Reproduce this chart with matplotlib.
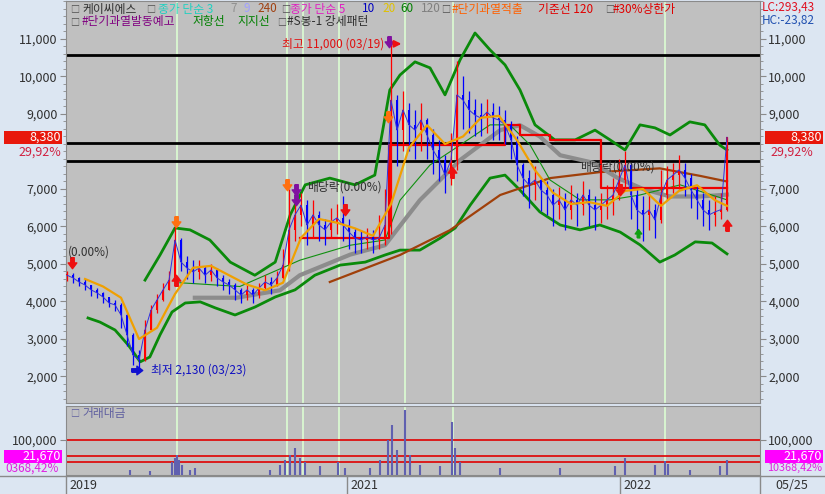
import numpy as np
import matplotlib.pyplot as plt
from matplotlib.path import Path
from matplotlib.patches import Rectangle
from matplotlib.lines import Line2D
from matplotlib.ticker import FuncFormatter, FixedLocator, MultipleLocator, NullLocator

plt.rcParams['font.family'] = ['Noto Sans CJK KR', 'DejaVu Sans']

W, H = 825, 494
def fx(px): return px / W
def fy(py): return 1 - py / H

# daily-ish bars (index 0 = start of 2019)
close = [4700, 4630, 4520, 4440, 4310, 4230, 4120, 3960, 3910, 3640,
         3110, 2570, 2440, 3240, 3770, 4040, 4310, 4570, 5640, 5050,
         4890, 4790, 4890, 4700, 4840, 4630, 4520, 4440, 4310, 4170,
         4310, 4170, 4360, 4520, 4440, 4630, 4970, 5910, 6310, 6570,
         6040, 6310, 6040, 5910, 6120, 6230, 6040, 5850, 5690, 5640,
         5720, 5640, 5690, 6040, 9370, 8570, 9110, 8710, 8570, 8840,
         8440, 8040, 7770, 7370, 7770, 9510, 9370, 9110, 8970, 8890,
         9050, 8890, 8840, 8710, 8310, 7640, 7290, 7110, 7240, 6970,
         6840, 6570, 6710, 6440, 6710, 6570, 6840, 6570, 6440, 6570,
         6710, 6840, 7240, 7640, 6840, 6440, 6310, 6440, 6170, 6840,
         7240, 7370, 7510, 7290, 6970, 6710, 6440, 6310, 6390, 6450,
         8380]
high = [4800, 4750, 4650, 4600, 4450, 4350, 4250, 4100, 4050, 3950,
        3700, 3150, 2700, 3500, 3900, 4200, 4500, 4800, 6000, 5700,
        5200, 5100, 5100, 4950, 5000, 4900, 4700, 4600, 4500, 4350,
        4450, 4350, 4500, 4700, 4650, 4800, 5400, 7000, 6800, 6900,
        6700, 6700, 6400, 6200, 6500, 6600, 6800, 6200, 5950, 5900,
        5950, 5900, 6300, 7000, 11000, 9500, 9600, 9300, 9100, 9300,
        8900, 8600, 8300, 7900, 8500, 10400, 10000, 9600, 9400, 9300,
        9400, 9300, 9200, 9100, 8800, 8400, 7700, 7500, 7600, 7300,
        7200, 7000, 7050, 6900, 7100, 6900, 7200, 7000, 6800, 6900,
        7100, 7300, 7800, 8000, 7700, 7000, 6800, 6900, 6600, 7500,
        7600, 7700, 7900, 7700, 7400, 7100, 6900, 6700, 6800, 6900,
        8380]
low = [4550, 4500, 4400, 4300, 4150, 4100, 3950, 3850, 3750, 3300,
       2800, 2300, 2130, 2400, 3200, 3700, 4000, 4300, 4500, 4800,
       4600, 4500, 4600, 4500, 4550, 4400, 4300, 4200, 4050, 3950,
       4050, 3950, 4100, 4300, 4200, 4400, 4600, 4800, 5600, 6000,
       5500, 5700, 5600, 5500, 5700, 5800, 5600, 5400, 5300, 5300,
       5400, 5300, 5400, 5500, 5800, 7600, 8000, 8000, 7800, 8000,
       7800, 7400, 7200, 6900, 7100, 7500, 8600, 8500, 8400, 8400,
       8500, 8300, 8300, 8200, 7800, 7200, 6800, 6500, 6700, 6400,
       6300, 6000, 6200, 5900, 6200, 6000, 6300, 6000, 5900, 6100,
       6200, 6300, 6700, 7000, 6200, 5800, 5600, 5900, 5700, 6100,
       6700, 6900, 7000, 6800, 6500, 6200, 6000, 5900, 6000, 6200,
       6400]

# moving averages
ma20_x = list(range(3, 109, 3)) + [110]
ma20_v = [4600, 4400, 4100, 3000, 3300, 4200, 4900, 4950, 4700, 4450,
          4300, 4500, 5700, 6200, 6100, 5950, 5750, 6600, 8100, 8700,
          8200, 8400, 8900, 8950, 8300, 7500, 6900, 6600, 6650, 6550,
          6950, 7000, 6550, 6950, 7100, 6700, 6550]
ma60_x = [18.8, 28.8, 38.8, 47.2, 53.0, 55.5, 60.5, 65.5, 70.5, 73.8, 77.2, 80.5, 85.5, 90.5, 95.5, 102.2, 110]
ma60_v = [4500, 4400, 5100, 5500, 5640, 6700, 7640, 8170, 8710, 8710, 8170, 7240, 6710, 6710, 6840, 7110, 6710]
ma120_x = [21.3, 28.3, 35.5, 38.8, 47.2, 53.0, 58.8, 65.5, 72.2, 75.5, 78.8, 82.2, 87.7, 91.7, 96.0, 100.5, 105.5, 110]
ma120_v = [4100, 4100, 4300, 4700, 5250, 5500, 6700, 7770, 8570, 8700, 8400, 7900, 7700, 7300, 7000, 6800, 6800, 6850]
ma240_x = [43.8, 55.5, 63.8, 72.2, 80.5, 88.8, 98.8, 105.5, 110]
ma240_v = [4520, 5240, 5900, 6840, 7290, 7450, 7550, 7350, 7200]

# envelope bands
up_x = [13.0, 15.5, 18.0, 20.5, 23.8, 27.2, 31.3, 34.7, 37.2, 39.7, 43.8, 48.0, 51.3, 53.8, 55.5, 58.0,
        60.5, 63.0, 65.5, 68.0, 70.5, 73.0, 75.5, 78.0, 81.3, 84.7, 88.0, 90.5, 93.0, 95.5, 98.0, 100.5,
        103.8, 106.3, 108.8, 110]
up_v = [4570, 5240, 5960, 5910, 5640, 5050, 4700, 5050, 6310, 7110, 7290, 7110, 7370, 9640, 10040, 10390,
        10230, 9510, 10440, 11160, 10710, 10310, 9640, 8710, 8310, 8310, 8570, 8310, 8040, 8710, 8630, 8440,
        8790, 8710, 8170, 8040]
lo_x = [3.5, 5.5, 8.0, 10.2, 12.2, 13.8, 15.5, 17.5, 19.7, 22.2, 24.7, 28.0, 31.3, 34.7, 38.0, 41.3, 45.5,
        49.7, 53.0, 55.5, 58.8, 62.2, 64.7, 67.2, 70.5, 73.0, 75.5, 78.8, 82.2, 85.5, 88.8, 92.2, 95.5, 98.8,
        101.3, 104.7, 107.5, 110]
lo_v = [3560, 3450, 3240, 2840, 2390, 2520, 3110, 3720, 3960, 3990, 3830, 3640, 3850, 4120, 4310, 4700, 4970,
        5050, 5240, 5370, 5370, 5690, 5960, 6570, 7290, 7370, 6970, 6390, 6040, 5910, 6040, 5850, 5510, 5050,
        5240, 5590, 5560, 5270]

# baseline step line
base_x = [38.8, 53.7, 73.0, 75.5, 80.5, 89.0, 110]
base_v = [5700, 8170, 8700, 8450, 8300, 7030, 7030]

levels = [10570, 8230, 7750]
event_x = [18.3, 36.7, 39.3, 45.3, 56.3, 64.3, 99.7]

# signals
orange_dn_x, orange_dn_v = [18.2, 36.7, 53.5], [6120, 7110, 8920]
purple_dn_x, purple_dn_v = [38.2, 38.2, 53.7], [6980, 6700, 10920]
red_dn_x, red_dn_v = [0.8, 46.3, 92.2], [5030, 6440, 6970]
red_up_x, red_up_v = [18.2, 64.2, 110], [4570, 7450, 6040]
green_up_x, green_up_v = [95.2], [5830]

# trading value
vol_x = [10.5, 13.8, 17.5, 18.0, 18.3, 18.7, 19.2, 20.5, 21.3, 33.8, 35.5, 36.3, 37.2, 38.0, 38.8, 39.7,
         42.2, 45.2, 46.3, 50.5, 52.2, 53.5, 54.2, 55.0, 56.3, 57.2, 58.8, 62.2, 64.2, 64.7, 65.5, 72.2,
         82.2, 91.3, 93.0, 98.0, 99.7, 100.2, 103.8, 108.8, 110]
vol_v = [5700, 5200, 12200, 17900, 23900, 14800, 9200, 5700, 6900, 5700, 9200, 14800, 23900, 46500,
         17900, 12200, 8400, 12200, 6900, 6900, 14800, 100000, 419000, 38500, 1757000, 23900, 9200, 8400,
         558000, 46500, 12200, 6900, 6900, 8400, 17900, 9200, 13500, 10100, 5700, 8400, 14800]
vol_lines = [100000, 21670, 12200]

year_labels = ['2019', '2021', '2022']
year_px = [69, 350, 623]

BG = '#dce6f2'
PANEL = '#c0c0c0'

fig = plt.figure(figsize=(W / 100, H / 100), dpi=100, facecolor=BG)
ax = fig.add_axes([fx(66), fy(403), fx(760) - fx(66), fy(1) - fy(403)], facecolor=PANEL)
vax = fig.add_axes([fx(66), fy(475), fx(760) - fx(66), fy(406) - fy(475)], facecolor=PANEL, sharex=ax)

for a in (ax, vax):
    for x in event_x:
        a.axvline(x, color='#d8f5d0', lw=1.4, zorder=1)
    for s in a.spines.values():
        s.set_color('#8a8a8a')

for v in levels:
    ax.axhline(v, color='black', lw=2, zorder=2)

ax.plot(up_x, up_v, color='#0a8a0a', lw=2, zorder=2)
ax.plot(lo_x, lo_v, color='#0a8a0a', lw=2, zorder=2)
ax.plot(ma240_x, ma240_v, color='#a0400a', lw=1.6, zorder=2)
ax.plot(ma120_x, ma120_v, color='#8c8c8c', lw=3, zorder=2)
ax.plot(ma60_x, ma60_v, color='#109010', lw=0.8, zorder=2)
ax.plot(base_x, base_v, color='#ee0000', lw=1.6, drawstyle='steps-post', zorder=3)

c = np.array(close, float)
o = np.r_[c[0], c[:-1]]
idx = np.arange(len(c))
cols = np.where(c >= o, '#ff0000', '#0000ff')
ax.vlines(idx, low, high, colors=cols, lw=0.9, zorder=4)
ax.bar(idx, np.maximum(np.abs(c - o), 30), bottom=np.minimum(c, o), width=0.38, color=cols, zorder=4)
ax.plot(idx, c, color='#3030e0', lw=0.7, zorder=4)
ax.plot(ma20_x, ma20_v, color='#f0a000', lw=1.6, zorder=5)

down = Path([(-0.3, 1), (0.3, 1), (0.3, 0.1), (0.75, 0.1), (0, -0.9), (-0.75, 0.1), (-0.3, 0.1), (-0.3, 1)])
upar = Path([(x, -y) for x, y in down.vertices])
left = Path([(-y, x) for x, y in down.vertices])
ax.scatter(orange_dn_x, orange_dn_v, marker=down, s=70, color='#ff7010', zorder=6)
ax.scatter(purple_dn_x, purple_dn_v, marker=down, s=70, color='#8010a0', zorder=6)
ax.scatter(red_dn_x, red_dn_v, marker=down, s=70, color='#ee1010', zorder=6)
ax.scatter(red_up_x, red_up_v, marker=upar, s=70, color='#ee1010', zorder=6)
ax.scatter(green_up_x, green_up_v, marker=upar, s=40, color='#10a010', zorder=6)

# annotations
ax.text(0.1, 5320, '(0.00%)', fontsize=8.5, color='#303030', va='center', zorder=7)
ax.text(52.9, 10870, '최고 11,000 (03/19)', fontsize=8.5, color='#e01010', va='center', ha='right', zorder=7)
ax.annotate('', xy=(56.2, 10870), xytext=(54.2, 10870),
            arrowprops=dict(arrowstyle='-|>', color='#ee1010', lw=1.5, mutation_scale=10), zorder=7)
ax.scatter([11.7], [2170], marker=left, s=70, color='#1010d0', zorder=6)
ax.text(14.0, 2170, '최저 2,130 (03/23)', fontsize=8.5, color='#1010c0', va='center', zorder=7)
ax.text(40.0, 7050, '배당락(0.00%)', fontsize=8.5, color='#303030', va='center', zorder=7)
ax.text(85.5, 7590, '배당락(0.00%)', fontsize=8.5, color='#303030', va='center', zorder=7)

ax.set_xlim(-0.17, 115.5)
ax.set_ylim(1293, 12013)
ax.yaxis.set_major_locator(FixedLocator([2000, 3000, 4000, 5000, 6000, 7000, 9000, 10000, 11000]))
ax.yaxis.set_minor_locator(MultipleLocator(200))
ax.yaxis.set_major_formatter(FuncFormatter(lambda v, p: f'{v:,.0f}'))
ax.tick_params(axis='y', which='both', left=True, right=True, labelleft=True, labelright=True,
               direction='out', colors='#8a8a8a', labelcolor='#303030', labelsize=9, pad=2)
ax.tick_params(axis='y', which='major', length=4)
ax.tick_params(axis='y', which='minor', length=2)
ax.tick_params(axis='x', which='both', bottom=False, labelbottom=False)

# volume panel
vax.set_yscale('log')
vfloor = 3530
vax.vlines(vol_x, vfloor, vol_v, colors='#6060b0', lw=1.5, zorder=3)
for v in vol_lines:
    vax.axhline(v, color='#e00000', lw=1.2, zorder=2)
vax.set_ylim(vfloor, 2.58e6)
vax.yaxis.set_major_locator(FixedLocator([100000]))
vax.yaxis.set_minor_locator(NullLocator())
vax.yaxis.set_major_formatter(FuncFormatter(lambda v, p: f'{v:,.0f}'))
vax.tick_params(axis='y', left=True, right=True, labelleft=True, labelright=True, direction='out',
                length=4, colors='#8a8a8a', labelcolor='#303030', labelsize=9, pad=2)
vax.tick_params(axis='x', which='both', bottom=False, labelbottom=False)

def box(x0, x1, y0, y1, color):
    fig.add_artist(Rectangle((fx(x0), fy(y1)), fx(x1) - fx(x0), fy(y0) - fy(y1),
                             transform=fig.transFigure, fc=color, ec='none', zorder=10))

# price value boxes
box(4, 62, 131, 144, '#e8180c')
box(765, 823, 131, 144, '#e8180c')
fig.text(fx(61), fy(137.5), '8,380', ha='right', va='center', color='white', fontsize=9, zorder=11)
fig.text(fx(822), fy(137.5), '8,380', ha='right', va='center', color='white', fontsize=9, zorder=11)
fig.text(fx(61), fy(152), '29,92%', ha='right', va='center', color='#d02040', fontsize=9, zorder=11)
fig.text(fx(770), fy(152), '29,92%', ha='left', va='center', color='#d02040', fontsize=9, zorder=11)

box(4, 62, 450, 463, '#ff00ff')
box(765, 823, 450, 463, '#ff00ff')
fig.text(fx(61), fy(456.5), '21,670', ha='right', va='center', color='white', fontsize=9, zorder=11)
fig.text(fx(822), fy(456.5), '21,670', ha='right', va='center', color='white', fontsize=9, zorder=11)
fig.text(fx(59), fy(468), '0368,42%', ha='right', va='center', color='#e020e0', fontsize=8.5, zorder=11)
fig.text(fx(822), fy(468), '10368,42%', ha='right', va='center', color='#e020e0', fontsize=7.8, zorder=11)

fig.text(fx(762), fy(7), 'LC:293,43', color='#e01020', fontsize=8.5, va='center')
fig.text(fx(762), fy(20), 'HC:-23,82', color='#2050b0', fontsize=8.5, va='center')

# legend rows
row1 = [('□', 70, '#505050'), ('케이씨에스', 82, '#303030'), ('□', 146, '#505050'),
        ('종가 단순 3', 158, '#20d0c0'), ('7', 230, '#909090'), ('9', 243, '#a0a0ff'),
        ('240', 257, '#a04010'), ('□', 281, '#505050'), ('종가 단순 5', 290, '#e020c0'),
        ('10', 362, '#0000c0'), ('20', 382, '#e0c000'), ('60', 400, '#008000'),
        ('120', 421, '#808080'), ('□', 441, '#505050'), ('#단기과열적출', 452, '#ff6000'),
        ('기준선 120', 538, '#e00000'), ('□', 605, '#505050'), ('#30%상한가', 613, '#e00000')]
row2 = [('□', 70, '#505050'), ('#단기과열발동예고', 82, '#800080'), ('저항선', 193, '#008000'),
        ('지지선', 237, '#008000'), ('□', 277, '#505050'), ('#S봉-1 강세패턴', 287, '#303030')]
for items, y in ((row1, 9), (row2, 22)):
    for s, x, col in items:
        fs = 6.5 if s == '□' else 8.5
        fig.text(fx(x), fy(y), s, color=col, fontsize=fs, va='center', zorder=12)
fig.text(fx(70), fy(413), '□', color='#6060a0', fontsize=6.5, va='center', zorder=12)
fig.text(fx(82), fy(413), '거래대금', color='#6060a0', fontsize=8.5, va='center', zorder=12)

# date strip
fig.add_artist(Line2D([0, 1], [fy(476), fy(476)], transform=fig.transFigure, color='#8a8a8a', lw=1))
for x in [66, 347, 620, 760]:
    fig.add_artist(Line2D([fx(x), fx(x)], [fy(476), fy(494)], transform=fig.transFigure, color='#8a8a8a', lw=1))
for s, x in zip(year_labels, year_px):
    fig.text(fx(x), fy(485), s, color='#303030', fontsize=9, va='center')
fig.text(fx(775), fy(485), '05/25', color='#303030', fontsize=9, va='center')

fig.savefig('out.png', dpi=100, facecolor=fig.get_facecolor())
